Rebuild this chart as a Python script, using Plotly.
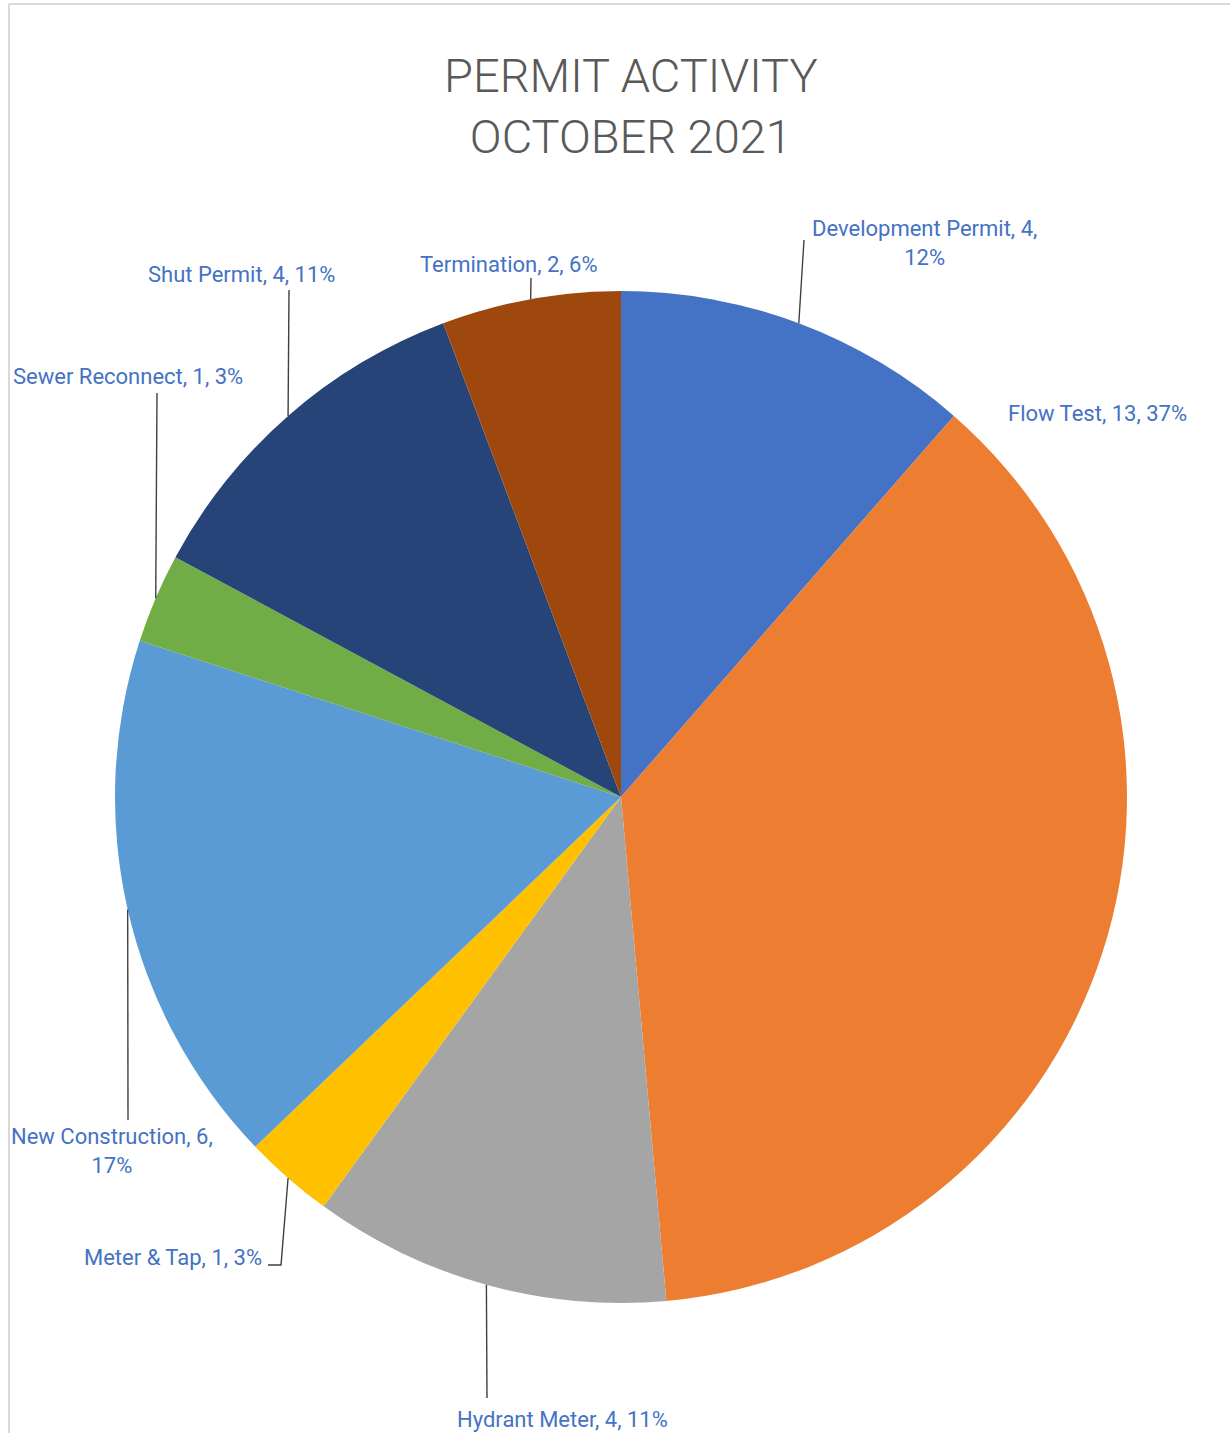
import math
import plotly.graph_objects as go

# ---- data ----
categories = ["Development Permit", "Flow Test", "Hydrant Meter", "Meter & Tap",
              "New Construction", "Sewer Reconnect", "Shut Permit", "Termination"]
counts = [4, 13, 4, 1, 6, 1, 4, 2]
pct_labels = ["12%", "37%", "11%", "3%", "17%", "3%", "11%", "6%"]
colors = ["#4472C4", "#ED7D31", "#A5A5A5", "#FFC000",
          "#5B9BD5", "#70AD47", "#264478", "#9E480E"]
title_lines = ["PERMIT ACTIVITY", "OCTOBER 2021"]

W, H = 1230, 1433
CX, CY, R = 621, 797, 506  # pie centre / radius in px

# label layout (px): centre x, centre y, line-break flag, leader end points
label_layout = {
    "Development Permit": dict(x=924, y=243, br=True, leader=[(804, 240)]),
    "Flow Test": dict(x=1097, y=413, br=False, leader=None),
    "Hydrant Meter": dict(x=562, y=1419, br=False, leader=[(487, 1398)]),
    "Meter & Tap": dict(x=173, y=1257, br=False, leader=[(281, 1265), (268, 1265)]),
    "New Construction": dict(x=112, y=1151, br=True, leader=[(128, 1120)]),
    "Sewer Reconnect": dict(x=128, y=376, br=False, leader=[(157, 393)]),
    "Shut Permit": dict(x=241, y=274, br=False, leader=[(289, 290)]),
    "Termination": dict(x=509, y=264, br=False, leader=[(531, 278)]),
}


def px(x):
    return x / W


def py(y):
    return 1 - y / H


fig = go.Figure(go.Pie(
    labels=categories,
    values=counts,
    sort=False,
    direction="clockwise",
    rotation=0,
    marker=dict(colors=colors, line=dict(width=0)),
    textinfo="none",
    hoverinfo="label+value+percent",
    showlegend=False,
    domain=dict(x=[px(CX - R), px(CX + R)], y=[py(CY + R), py(CY - R)]),
))

total = sum(counts)
cum = 0
annotations = []
shapes = []
label_color = "#4472C4"
label_font = dict(family="Roboto, sans-serif", size=22, color=label_color)

for cat, val, pct in zip(categories, counts, pct_labels):
    mid = (cum + val / 2) / total * 2 * math.pi
    cum += val
    lay = label_layout[cat]
    sep = "<br>" if lay["br"] else " "
    text = f"{cat}, {val},{sep}{pct}"
    annotations.append(dict(
        x=px(lay["x"]), y=py(lay["y"]), xref="paper", yref="paper",
        text=text, showarrow=False, font=label_font,
        xanchor="center", yanchor="middle", align="center",
    ))
    if lay["leader"]:
        sx = CX + R * math.sin(mid)
        sy = CY - R * math.cos(mid)
        pts = [(sx, sy)] + lay["leader"]
        path = "M " + " L ".join(f"{px(a):.5f},{py(b):.5f}" for a, b in pts)
        shapes.append(dict(type="path", path=path, xref="paper", yref="paper",
                           line=dict(color="#404040", width=1.4)))

# title
annotations.append(dict(
    x=px(631), y=py(106), xref="paper", yref="paper",
    text="<br>".join(title_lines), showarrow=False,
    xanchor="center", yanchor="middle", align="center",
    font=dict(family="Roboto, sans-serif", size=47, color="#595959", weight=300),
))

# chart border (top and left)
shapes.append(dict(type="line", xref="paper", yref="paper",
                   x0=px(9), x1=1, y0=py(4), y1=py(4),
                   line=dict(color="#D9D9D9", width=2)))
shapes.append(dict(type="line", xref="paper", yref="paper",
                   x0=px(9), x1=px(9), y0=py(4), y1=0,
                   line=dict(color="#D9D9D9", width=2)))

fig.update_layout(
    width=W, height=H,
    margin=dict(l=0, r=0, t=0, b=0),
    paper_bgcolor="white",
    plot_bgcolor="white",
    annotations=annotations,
    shapes=shapes,
)

fig.write_html("out.html", config={"displayModeBar": False},
               post_script="document.body.style.margin='0';")
